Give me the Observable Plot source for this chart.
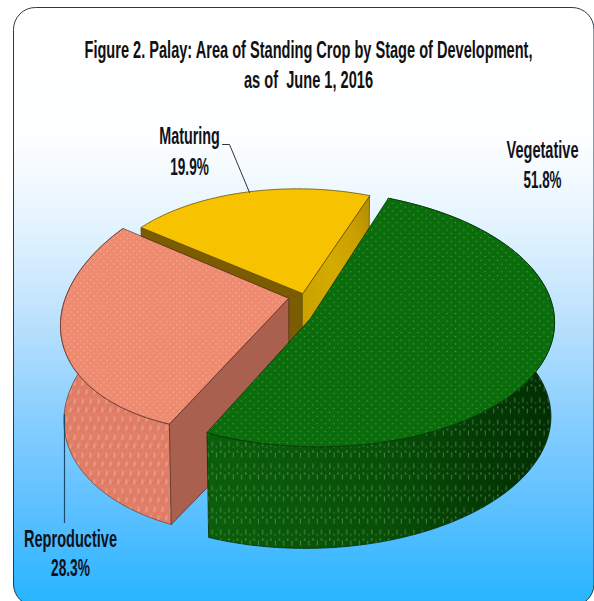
<!DOCTYPE html>
<html>
<head>
<meta charset="utf-8">
<script src="https://cdn.jsdelivr.net/npm/d3@7"></script>
<script src="https://cdn.jsdelivr.net/npm/@observablehq/plot@0.6"></script>
<style>
  html, body { margin: 0; padding: 0; background: #fff; }
  svg { display: block; }
</style>
</head>
<body>
<div id="chart"></div>
<script>
// Palay standing crop by stage of development (percent of area)
const stages = ["Vegetative", "Reproductive", "Maturing"];
const shares = [51.8, 28.3, 19.9];
const titleLines = ["Figure 2. Palay: Area of Standing Crop by Stage of Development,", "as of  June 1, 2016"];

// Where each slice sits on the tilted, exploded pie
const startAngle = 24;
const taper = 0.985;
const sliceFrames = [
  {cx: 310, cy: 318, a: 243, s: 23, b: 128, t: -8, depth: 101, floorT: -15},
  {cx: 288, cy: 298, a: 228, s: -4, b: 131, t: -25, depth: 106, floorT: -14},
  {cx: 302, cy: 293, a: 203, s: 17, b: 104.5, t: -6, depth: 104, floorT: -6}
];
// Label anchors, with the condensed run length of each line
const labelSpots = [
  {x: 542, y1: 157, y2: 187, w1: 72, w2: 38},
  {x: 70, y1: 546, y2: 575, w1: 93, w2: 39},
  {x: 189, y1: 143, y2: 174, w1: 60.6, w2: 38.6}
];
const titleWidths = [448, 129];
const tallness = 1.6;

// Turn the shares into angular extents, clockwise from the back of the pie
let running = startAngle;
const slices = stages.map((stage, i) => {
  const from = running;
  const to = running + shares[i] * 3.6;
  running = to;
  return {stage, share: shares[i], from, to, frame: sliceFrames[i]};
});

const rad = Math.PI / 180;
function rim(f, deg, floor = false) {
  const X = Math.sin(deg * rad), Y = -Math.cos(deg * rad);
  const k = floor ? taper : 1;
  return {
    x: f.cx + k * (f.a * X + f.s * Y),
    y: f.cy + f.b * Y + (floor ? f.floorT * X + f.depth : f.t * X)
  };
}
function arc(f, from, to, floor = false) {
  const n = Math.ceil(Math.abs(to - from));
  return d3.range(n + 1).map(i => rim(f, from + (to - from) * i / n, floor));
}
const apex = (f, floor = false) => ({x: f.cx, y: f.cy + (floor ? f.depth : 0)});
const topFace = s => [apex(s.frame), ...arc(s.frame, s.from, s.to)];
const outerWall = (s, from, to) => [...arc(s.frame, from, to), ...arc(s.frame, to, from, true)];
const cutFace = (s, deg) => [apex(s.frame), rim(s.frame, deg), rim(s.frame, deg, true), apex(s.frame, true)];

function polygon(points, fill, stroke, strokeWidth = 0.8) {
  return Plot.line(points, {x: "x", y: "y", fill, stroke, strokeWidth, curve: "linear-closed"});
}

// Draws text tall and narrow: each line is fitted to its run length and stretched upward
function condensed(index, scales, values, dimensions, context, next) {
  const g = next(index, scales, values, dimensions, context);
  d3.select(g).selectAll("text").each(function () {
    this.setAttribute("textLength", runLengths.get(this.textContent));
    this.setAttribute("lengthAdjust", "spacingAndGlyphs");
    this.setAttribute("transform", `${this.getAttribute("transform") || ""} scale(1,${tallness})`);
  });
  return g;
}

// Paint gradients and dotted textures shared by the marks below
function paints() {
  const defs = d3.create("svg:defs");
  defs.html(`
    <linearGradient id="card" x1="0" y1="0" x2="0" y2="1">
      <stop offset="0" stop-color="#ffffff"/>
      <stop offset="0.22" stop-color="#fdfeff"/>
      <stop offset="0.35" stop-color="#e6f5fe"/>
      <stop offset="0.5" stop-color="#c2e4fd"/>
      <stop offset="0.67" stop-color="#8cd0ff"/>
      <stop offset="0.84" stop-color="#5cc0ff"/>
      <stop offset="1" stop-color="#25b4ff"/>
    </linearGradient>
    <linearGradient id="greenWall" x1="0" y1="0" x2="1" y2="0">
      <stop offset="0" stop-color="#0b5e0b"/>
      <stop offset="0.5" stop-color="#084f08"/>
      <stop offset="0.85" stop-color="#033603"/>
      <stop offset="1" stop-color="#022e02"/>
    </linearGradient>
    <linearGradient id="yellowWall" x1="0" y1="1" x2="1" y2="0">
      <stop offset="0" stop-color="#c49c00"/>
      <stop offset="0.55" stop-color="#d4ab00"/>
      <stop offset="0.8" stop-color="#c9a000"/>
      <stop offset="1" stop-color="#b08b00"/>
    </linearGradient>
    <pattern id="greenDots" patternUnits="userSpaceOnUse" width="8.4" height="7.6">
      <rect width="8.4" height="7.6" fill="#0a6c0a"/>
      <circle cx="1.5" cy="1.5" r="0.65" fill="#7fc47f" opacity="0.75"/>
      <circle cx="5.7" cy="5.3" r="0.65" fill="#7fc47f" opacity="0.75"/>
    </pattern>
    <pattern id="pinkDots" patternUnits="userSpaceOnUse" width="6.6" height="6.4">
      <rect width="6.6" height="6.4" fill="#ee8a70"/>
      <circle cx="1.2" cy="1.2" r="0.7" fill="#f9b9a3" opacity="0.85"/>
      <circle cx="4.5" cy="4.4" r="0.7" fill="#f9b9a3" opacity="0.85"/>
    </pattern>
    <pattern id="yellowDots" patternUnits="userSpaceOnUse" width="5" height="5">
      <rect width="5" height="5" fill="#f8c400"/>
      <circle cx="1" cy="1" r="0.6" fill="#e6ad00" opacity="0.8"/>
      <circle cx="3.5" cy="3.5" r="0.6" fill="#e6ad00" opacity="0.8"/>
    </pattern>
    <pattern id="greenDashes" patternUnits="userSpaceOnUse" width="8.4" height="22">
      <rect x="1.3" y="1" width="0.9" height="5" fill="#9fd39f" opacity="0.45"/>
      <rect x="5.5" y="12" width="0.9" height="5" fill="#9fd39f" opacity="0.45"/>
      <circle cx="1.7" cy="11" r="0.8" fill="#c8e6c8" opacity="0.6"/>
      <circle cx="5.9" cy="6.5" r="0.7" fill="#c8e6c8" opacity="0.35"/>
    </pattern>
    <pattern id="pinkDashes" patternUnits="userSpaceOnUse" width="8" height="18">
      <rect width="8" height="18" fill="#e17f69"/>
      <path d="M0 5 L4 0 M2 11 L7 5 M0 17 L5 11 M5 18 L8 14" stroke="#cf6a54" stroke-width="0.8" opacity="0.7"/>
      <rect x="1.4" y="2" width="1.1" height="5" fill="#f6c3a6" opacity="0.75"/>
      <rect x="5.4" y="11" width="1.1" height="5" fill="#f6c3a6" opacity="0.75"/>
    </pattern>
  `);
  return defs.node();
}

const [green, pink, gold] = slices;
const fontFamily = "'Liberation Sans', Arial, sans-serif";

const labels = slices.flatMap((s, i) => [
  {x: labelSpots[i].x, y: labelSpots[i].y1, text: s.stage, w: labelSpots[i].w1},
  {x: labelSpots[i].x, y: labelSpots[i].y2, text: `${s.share}%`, w: labelSpots[i].w2}
]);
const titles = titleLines.map((text, i) => ({x: 308, y: 57 + i * 30, text, w: titleWidths[i]}));
const runLengths = new Map([...labels, ...titles].map(d => [d.text, d.w]));

const chart = Plot.plot({
  width: 594,
  height: 601,
  margin: 0,
  x: {domain: [0, 594], range: [0, 594], axis: null},
  y: {domain: [0, 601], range: [0, 601], axis: null},
  style: {background: "transparent"},
  marks: [
    paints,
    // Rounded card behind the whole figure
    Plot.rect([{x1: 13.5, x2: 594, y1: 7.5, y2: 606}], {
      x1: "x1", x2: "x2", y1: "y1", y2: "y2", rx: 22,
      fill: "url(#card)", stroke: "#2a3a48", strokeWidth: 1
    }),

    // Maturing sits furthest back
    polygon(cutFace(gold, gold.from), "#7b5c00", "#4d3a00"),
    polygon(cutFace(gold, gold.to), "url(#yellowWall)", "#6f5600"),
    polygon(topFace(gold), "url(#yellowDots)", "#6b5200"),

    // Reproductive
    polygon(outerWall(pink, pink.from, pink.to), "url(#pinkDashes)", "#7a4434"),
    polygon(cutFace(pink, pink.from), "#a9604f", "#5e3226"),
    polygon(topFace(pink), "url(#pinkDots)", "#5e3226"),

    // Vegetative is nearest the viewer
    polygon(outerWall(green, green.from, green.to), "url(#greenWall)", "#032c03"),
    polygon(outerWall(green, green.from, green.to), "url(#greenDashes)", "none"),
    polygon(topFace(green), "url(#greenDots)", "#033a03"),

    // Leader lines from the labels to their slices
    Plot.line([{x: 222, y: 144}, {x: 229, y: 144}, {x: 249, y: 192}], {x: "x", y: "y", stroke: "#333", strokeWidth: 1}),
    Plot.line([{x: 64, y: 414}, {x: 64, y: 522}], {x: "x", y: "y", stroke: "#1d4a6b", strokeWidth: 1.2}),

    Plot.text(titles, {
      x: "x", y: "y", text: "text", fontFamily, fontWeight: "bold", fontSize: 15,
      textAnchor: "middle", lineAnchor: "bottom", fill: "#111", render: condensed,
      style: {whiteSpace: "pre"}
    }),
    Plot.text(labels, {
      x: "x", y: "y", text: "text", fontFamily, fontWeight: "bold", fontSize: 14.4,
      textAnchor: "middle", lineAnchor: "bottom", fill: "#10121c", render: condensed
    })
  ]
});
document.getElementById("chart").append(chart);
</script>
</body>
</html>
